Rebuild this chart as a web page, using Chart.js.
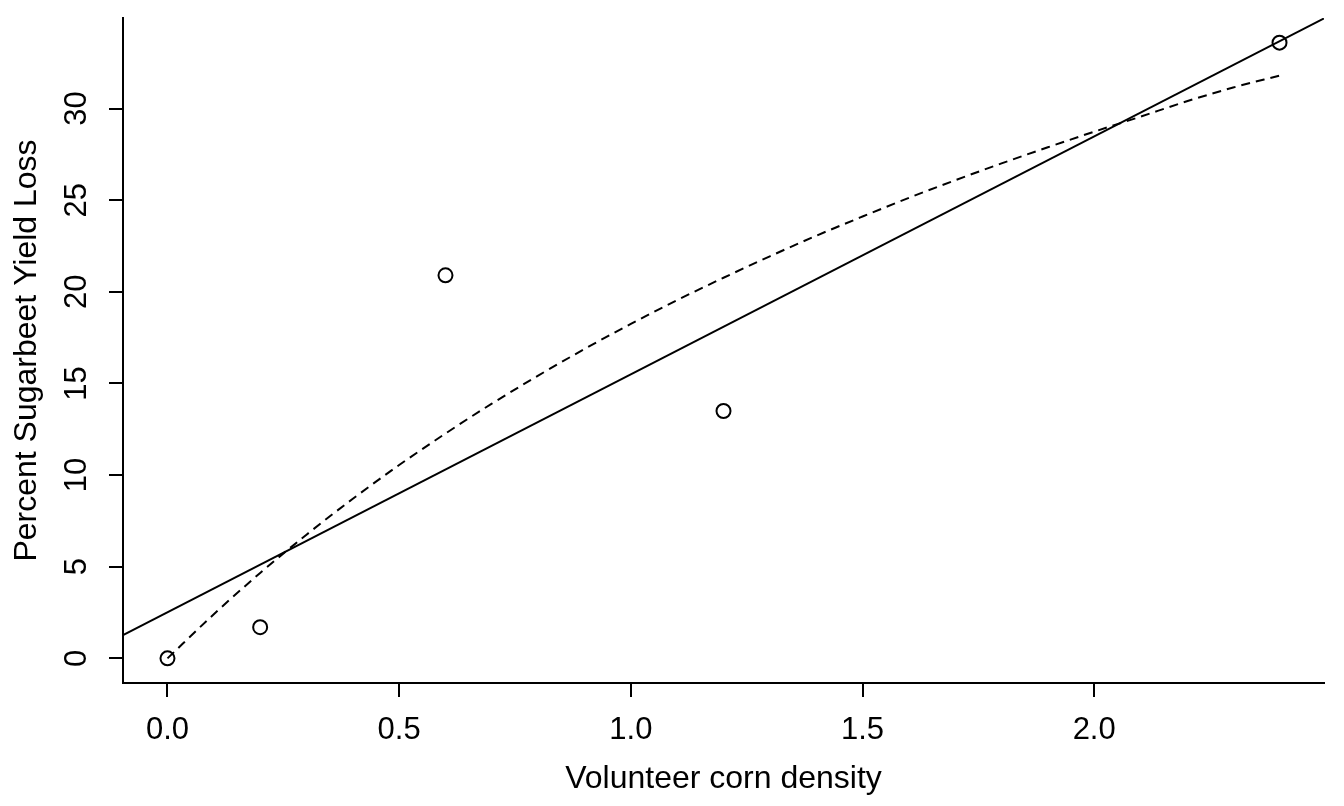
<!DOCTYPE html>
<html>
<head>
<meta charset="utf-8">
<script src="https://cdn.jsdelivr.net/npm/chart.js@4"></script>
<style>
  html, body { margin: 0; padding: 0; background: #fff; }
  #wrap { width: 1344px; height: 806px; }
</style>
</head>
<body>
<div id="wrap"><canvas id="c" width="1344" height="806"></canvas></div>
<script>
// ---- data ----
const obsDensity = [0, 0.2, 0.6, 1.2, 2.4];
const obsLoss    = [0, 1.7, 20.9, 13.5, 33.6];

// straight fitted line (spans the plotting region)
const lineDensity = [-0.096, 2.496];
const lineLoss    = [1.27, 34.92];

// dashed fitted curve
const curveDensity = [0, 0.1, 0.2, 0.3, 0.4, 0.5, 0.6, 0.7, 0.8, 0.9, 1.0, 1.1, 1.2,
                      1.3, 1.4, 1.5, 1.6, 1.7, 1.8, 1.9, 2.0, 2.1, 2.2, 2.3, 2.4];
const curveLoss    = [0, 2.41, 4.66, 6.75, 8.71, 10.55, 12.27, 13.9, 15.43, 16.88, 18.25, 19.55, 20.77,
                      21.94, 23.06, 24.11, 25.13, 26.09, 27.01, 27.89, 28.74, 29.56, 30.4, 31.15, 31.8];

const xTicks = [0, 0.5, 1.0, 1.5, 2.0];
const yTicks = [0, 5, 10, 15, 20, 25, 30];
const xTitle = 'Volunteer corn density';
const yTitle = 'Percent Sugarbeet Yield Loss';

const FONT = '"Liberation Sans", Arial, Helvetica, sans-serif';
const FS_TICK = 31;
const FS_TITLE = 32;

const toXY = (xs, ys) => xs.map((x, i) => ({ x: x, y: ys[i] }));

const textPlugin = {
  id: 'rtext',
  afterDraw(chart) {
    const ctx = chart.ctx;
    const xs = chart.scales.x, ys = chart.scales.y;
    const ca = chart.chartArea;
    ctx.save();
    ctx.fillStyle = '#000';
    ctx.textAlign = 'center';
    ctx.textBaseline = 'middle';
    ctx.font = FS_TICK + 'px ' + FONT;
    // x tick labels
    xTicks.forEach(v => {
      ctx.fillText(v.toFixed(1), xs.getPixelForValue(v), ca.bottom + 47);
    });
    // y tick labels (rotated)
    yTicks.forEach(v => {
      ctx.save();
      ctx.translate(ca.left - 46, ys.getPixelForValue(v));
      ctx.rotate(-Math.PI / 2);
      ctx.fillText(String(v), 0, 0);
      ctx.restore();
    });
    // axis titles
    ctx.font = FS_TITLE + 'px ' + FONT;
    ctx.fillText(xTitle, (ca.left + ca.right) / 2, ca.bottom + 96);
    ctx.save();
    ctx.translate(ca.left - 96, (ca.top + ca.bottom) / 2);
    ctx.rotate(-Math.PI / 2);
    ctx.fillText(yTitle, 0, 0);
    ctx.restore();
    ctx.restore();
  }
};

new Chart(document.getElementById('c'), {
  type: 'scatter',
  data: {
    datasets: [
      {
        label: 'observed',
        data: toXY(obsDensity, obsLoss),
        showLine: false,
        pointStyle: 'circle',
        pointRadius: 7,
        pointBorderWidth: 2,
        pointBackgroundColor: 'rgba(0,0,0,0)',
        pointBorderColor: '#000',
        order: 0
      },
      {
        label: 'linear',
        data: toXY(lineDensity, lineLoss),
        showLine: true,
        borderColor: '#000',
        borderWidth: 2,
        pointRadius: 0,
        fill: false,
        order: 1
      },
      {
        label: 'curve',
        data: toXY(curveDensity, curveLoss),
        showLine: true,
        borderColor: '#000',
        borderWidth: 2,
        borderDash: [9, 6],
        cubicInterpolationMode: 'monotone',
        pointRadius: 0,
        fill: false,
        order: 2
      }
    ]
  },
  options: {
    responsive: false,
    devicePixelRatio: 1,
    animation: false,
    layout: { padding: { top: 18, right: 20, left: 0, bottom: 0 } },
    plugins: { legend: { display: false }, tooltip: { enabled: false } },
    scales: {
      x: {
        type: 'linear',
        min: -0.096,
        max: 2.496,
        afterBuildTicks: s => { s.ticks = xTicks.map(v => ({ value: v })); },
        afterFit: s => { s.height = 123; },
        ticks: { display: false },
        grid: { drawOnChartArea: false, drawTicks: true, tickLength: 14, color: '#000', lineWidth: 2 },
        border: { display: true, color: '#000', width: 2 }
      },
      y: {
        type: 'linear',
        min: -1.344,
        max: 34.944,
        afterBuildTicks: s => { s.ticks = yTicks.map(v => ({ value: v })); },
        afterFit: s => { s.width = 123; },
        ticks: { display: false },
        grid: { drawOnChartArea: false, drawTicks: true, tickLength: 14, color: '#000', lineWidth: 2 },
        border: { display: true, color: '#000', width: 2 }
      }
    }
  },
  plugins: [textPlugin]
});
</script>
</body>
</html>
